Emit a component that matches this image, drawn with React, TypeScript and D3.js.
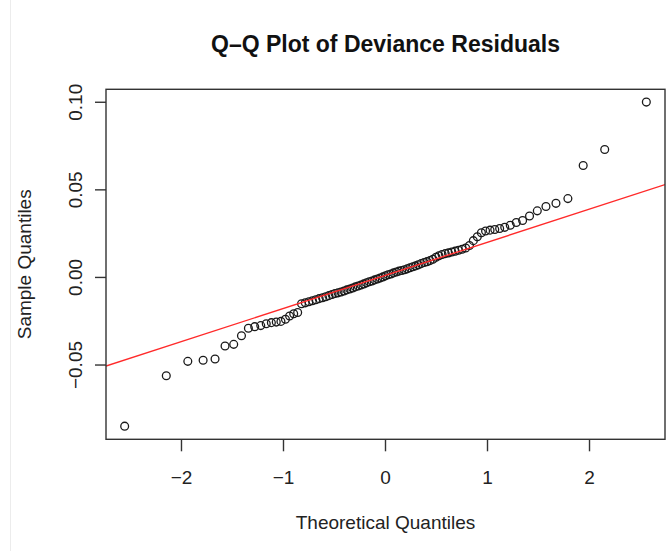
import React, { useEffect, useRef } from 'react';
import * as d3 from 'd3';

// theoretical normal quantiles (x) and sorted deviance residuals (y)
const theoretical = [
  -2.557, -2.149, -1.938, -1.788, -1.671, -1.573, -1.488, -1.412, -1.344, -1.282,
  -1.223, -1.169, -1.119, -1.071, -1.025, -0.981, -0.94, -0.9, -0.861, -0.823,
  -0.786, -0.751, -0.716, -0.683, -0.65, -0.617, -0.586, -0.555, -0.524, -0.495,
  -0.465, -0.436, -0.407, -0.379, -0.35, -0.322, -0.295, -0.268, -0.24, -0.213,
  -0.186, -0.159, -0.132, -0.106, -0.079, -0.053, -0.026, 0, 0.026, 0.053,
  0.079, 0.106, 0.132, 0.159, 0.186, 0.213, 0.24, 0.268, 0.295, 0.322,
  0.35, 0.379, 0.407, 0.436, 0.465, 0.495, 0.524, 0.555, 0.586, 0.617,
  0.65, 0.683, 0.716, 0.751, 0.786, 0.823, 0.861, 0.9, 0.94, 0.981,
  1.025, 1.071, 1.119, 1.169, 1.223, 1.282, 1.344, 1.412, 1.488, 1.573,
  1.671, 1.788, 1.938, 2.149, 2.557,
];

const sample = [
  -0.0849, -0.0561, -0.0479, -0.0473, -0.0466, -0.0391, -0.0382, -0.0333, -0.029, -0.0281,
  -0.0275, -0.0264, -0.0258, -0.0255, -0.0251, -0.0239, -0.022, -0.0207, -0.02, -0.015,
  -0.0145, -0.0139, -0.0133, -0.0127, -0.0121, -0.0116, -0.011, -0.0104, -0.0097, -0.0092,
  -0.0088, -0.0083, -0.0077, -0.0071, -0.0066, -0.006, -0.0054, -0.0049, -0.0043, -0.0037,
  -0.0031, -0.0025, -0.002, -0.0014, -0.0009, -0.0003, 0.0003, 0.0009, 0.0015, 0.002,
  0.0026, 0.0031, 0.0036, 0.004, 0.0044, 0.0049, 0.0055, 0.0061, 0.0066, 0.0072,
  0.0079, 0.0085, 0.009, 0.0096, 0.0104, 0.0115, 0.0124, 0.0131, 0.0136, 0.014,
  0.0145, 0.015, 0.0155, 0.0161, 0.0168, 0.0182, 0.021, 0.0232, 0.0255, 0.0265,
  0.027, 0.0274, 0.0279, 0.0286, 0.0298, 0.0314, 0.0325, 0.0351, 0.038, 0.0405,
  0.0423, 0.045, 0.0639, 0.073, 0.1001,
];

// qqline (through the quartiles)
const qqIntercept = 0.0012;
const qqSlope = 0.0189;

const xTicks = [-2, -1, 0, 1, 2];
const xTickLabels = ['−2', '−1', '0', '1', '2'];
const yTicks = [-0.05, 0, 0.05, 0.1];
const yTickLabels = ['−0.05', '0.00', '0.05', '0.10'];

const xDomain = [-2.74, 2.74];
const yDomain = [-0.0924, 0.1074];

const W = 666;
const H = 551;
const FONT = '"Liberation Sans", Arial, Helvetica, sans-serif';

const App: React.FC = () => {
  const ref = useRef<SVGSVGElement>(null);

  useEffect(() => {
    const svg = d3.select(ref.current);
    svg.selectAll('*').remove();

    const left = 106, right = 665, top = 89.3, bottom = 439.3;

    const x = d3.scaleLinear().domain(xDomain).range([left, right]);
    const y = d3.scaleLinear().domain(yDomain).range([bottom, top]);

    svg.append('rect').attr('width', W).attr('height', H).attr('fill', '#fff');

    // faint border of the screenshot on the left
    svg.append('line')
      .attr('x1', 10.5).attr('x2', 10.5).attr('y1', 0).attr('y2', H)
      .attr('stroke', '#ececec').attr('stroke-width', 1);

    // title
    svg.append('text')
      .attr('x', (left + right) / 2)
      .attr('y', 52)
      .attr('text-anchor', 'middle')
      .style('font-family', FONT)
      .style('font-size', '23px')
      .style('font-weight', 'bold')
      .attr('fill', '#111')
      .text('Q–Q Plot of Deviance Residuals');

    const clip = svg.append('clipPath').attr('id', 'plotclip');
    clip.append('rect')
      .attr('x', left).attr('y', top)
      .attr('width', right - left).attr('height', bottom - top);

    // points
    const pts = theoretical.map((t, i) => ({ t, s: sample[i] }));
    svg.append('g')
      .selectAll('circle')
      .data(pts)
      .enter()
      .append('circle')
      .attr('cx', d => x(d.t))
      .attr('cy', d => y(d.s))
      .attr('r', 3.9)
      .attr('fill', 'none')
      .attr('stroke', '#1a1a1a')
      .attr('stroke-width', 1.3);

    // reference line
    const line = d3.line<number>()
      .x(d => x(d))
      .y(d => y(qqIntercept + qqSlope * d));
    svg.append('path')
      .datum(xDomain)
      .attr('d', line)
      .attr('clip-path', 'url(#plotclip)')
      .attr('fill', 'none')
      .attr('stroke', '#ff2a2a')
      .attr('stroke-width', 1.4);

    // box
    svg.append('rect')
      .attr('x', left).attr('y', top)
      .attr('width', right - left).attr('height', bottom - top)
      .attr('fill', 'none')
      .attr('stroke', '#333')
      .attr('stroke-width', 1.4);

    // x axis ticks + labels
    const xg = svg.append('g');
    xg.selectAll('line')
      .data(xTicks)
      .enter()
      .append('line')
      .attr('x1', d => x(d)).attr('x2', d => x(d))
      .attr('y1', bottom).attr('y2', bottom + 12)
      .attr('stroke', '#333').attr('stroke-width', 1.4);
    xg.selectAll('text')
      .data(xTicks)
      .enter()
      .append('text')
      .attr('x', d => x(d))
      .attr('y', 483.5)
      .attr('text-anchor', 'middle')
      .style('font-family', FONT)
      .style('font-size', '19px')
      .attr('fill', '#222')
      .text((_, i) => xTickLabels[i]);

    // y axis ticks + labels (rotated, R style)
    const yg = svg.append('g');
    yg.selectAll('line')
      .data(yTicks)
      .enter()
      .append('line')
      .attr('x1', left - 11).attr('x2', left)
      .attr('y1', d => y(d)).attr('y2', d => y(d))
      .attr('stroke', '#333').attr('stroke-width', 1.4);
    yg.selectAll('text')
      .data(yTicks)
      .enter()
      .append('text')
      .attr('transform', d => `translate(81.5, ${y(d)}) rotate(-90)`)
      .attr('text-anchor', 'middle')
      .style('font-family', FONT)
      .style('font-size', '19px')
      .attr('fill', '#222')
      .text((_, i) => yTickLabels[i]);

    // axis titles
    svg.append('text')
      .attr('x', (left + right) / 2)
      .attr('y', 529)
      .attr('text-anchor', 'middle')
      .style('font-family', FONT)
      .style('font-size', '19px')
      .attr('fill', '#222')
      .text('Theoretical Quantiles');

    svg.append('text')
      .attr('transform', `translate(30.5, ${(top + bottom) / 2}) rotate(-90)`)
      .attr('text-anchor', 'middle')
      .style('font-family', FONT)
      .style('font-size', '19px')
      .attr('fill', '#222')
      .text('Sample Quantiles');
  }, []);

  return (
    <svg
      ref={ref}
      width={W}
      height={H}
      style={{ position: 'absolute', left: 0, top: 0, display: 'block' }}
    />
  );
};

export default App;
